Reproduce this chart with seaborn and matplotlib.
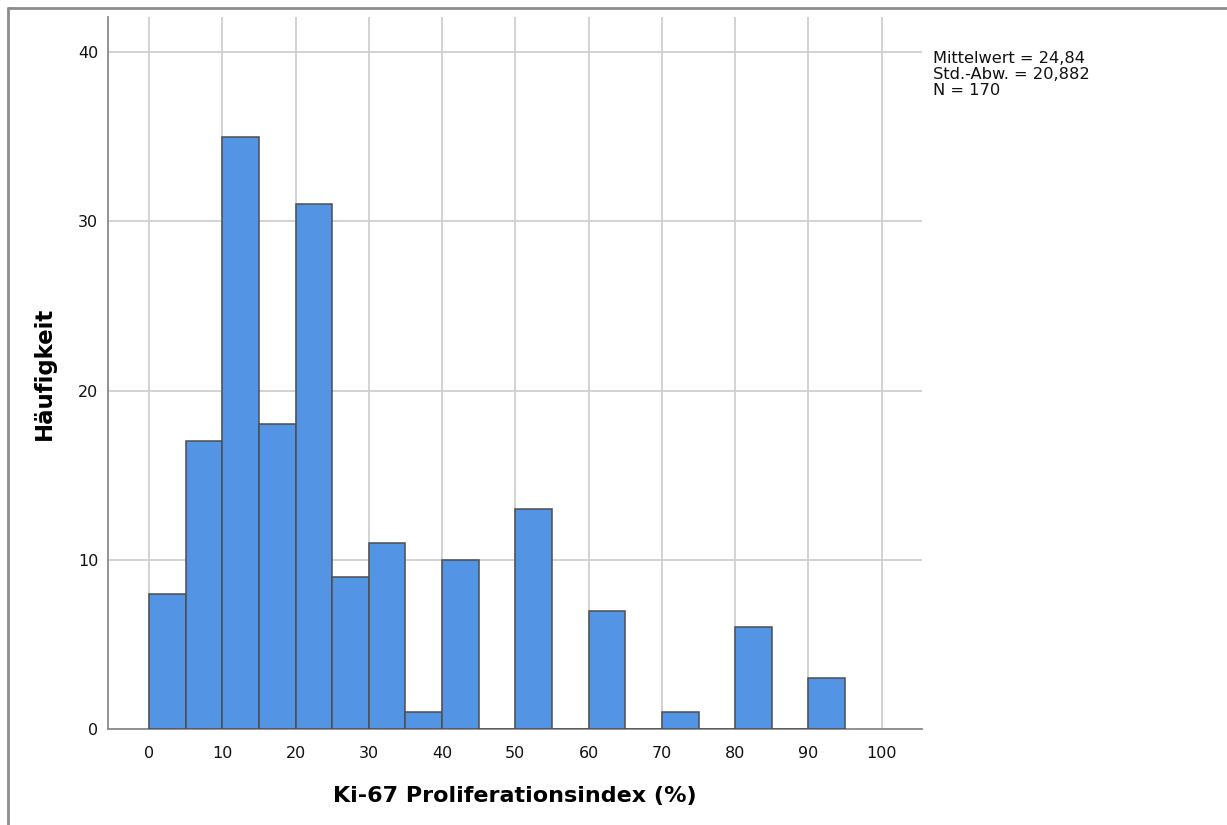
import matplotlib
matplotlib.use("Agg")
import matplotlib.pyplot as plt
import seaborn as sns
import numpy as np
import pandas as pd
from matplotlib.lines import Line2D

# Data: histogram bins of width 5 (left edges) and counts
bin_left = [0, 5, 10, 15, 20, 25, 30, 35, 40, 45, 50, 55, 60, 65, 70, 75, 80, 85, 90]
counts = [8, 17, 35, 18, 31, 9, 11, 1, 10, 0, 13, 0, 7, 0, 1, 0, 6, 0, 3]
bin_edges = list(range(0, 100, 5))
x_ticks = [0, 10, 20, 30, 40, 50, 60, 70, 80, 90, 100]
y_ticks = [0, 10, 20, 30, 40]
stats_text = ["Mittelwert = 24,84", "Std.-Abw. = 20,882", "N = 170"]
x_label = "Ki-67 Proliferationsindex (%)"
y_label = "Häufigkeit"

sns.set_style("white")
plt.rcParams['font.family'] = ['DejaVu Sans']

fig = plt.figure(figsize=(12.27, 8.25), dpi=100)
ax = fig.add_axes([108/1227, 1-729/825, (922-108)/1227, (729-17)/825])

df = pd.DataFrame({"x": [b + 2.5 for b in bin_left], "w": counts})
sns.histplot(data=df, x="x", weights="w", bins=bin_edges, ax=ax,
             color="#5394E4", alpha=1.0, edgecolor="#4d4d4d", linewidth=1.1,
             zorder=3)

ax.set_xlim(-5.6, 105.5)
ax.set_ylim(0, 42.07)
ax.set_xticks(x_ticks)
ax.set_yticks(y_ticks)
ax.grid(True, color="#cfcfcf", linewidth=1.3, zorder=0)
ax.set_axisbelow(True)
for s in ["top", "right"]:
    ax.spines[s].set_visible(False)
for s in ["left", "bottom"]:
    ax.spines[s].set_color("#8a8a8a")
    ax.spines[s].set_linewidth(1.3)
ax.tick_params(axis="x", length=0, pad=12, labelsize=11.5, labelcolor="#111111")
ax.tick_params(axis="y", length=0, pad=7, labelsize=11.5, labelcolor="#111111")

ax.set_xlabel(x_label, fontsize=16, fontweight="bold", labelpad=18, color="black")
ax.set_ylabel(y_label, fontsize=16.5, fontweight="bold", labelpad=16, color="black")

fig.text(933/1227, 1-51/825, "\n".join(stats_text), fontsize=11.7,
         va="top", ha="left", linespacing=1.07, color="#111111")

# frame lines (top and left)
fig.add_artist(Line2D([8/1227, 1], [1-8/825, 1-8/825], color="#8c8c8c", linewidth=2, transform=fig.transFigure))
fig.add_artist(Line2D([8/1227, 8/1227], [0, 1-8/825], color="#8c8c8c", linewidth=2, transform=fig.transFigure))

fig.savefig("out.png", dpi=100)
